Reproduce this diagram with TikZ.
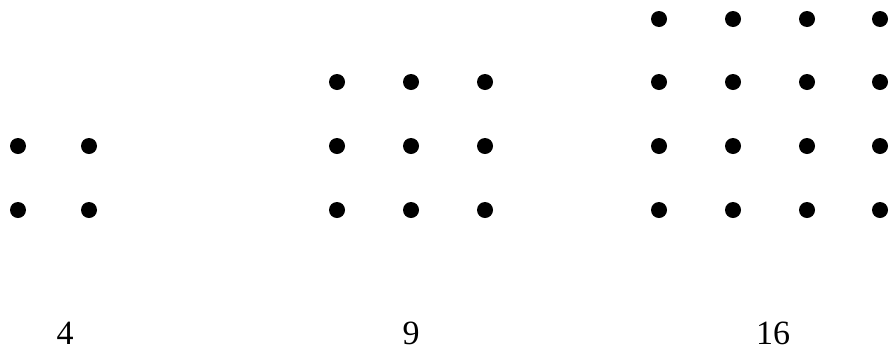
\documentclass[tikz,border=0pt]{standalone}
\usepackage{fontspec}
\setmainfont{Liberation Serif}
\begin{document}
\begin{tikzpicture}[x=1pt,y=-1pt,
  dotmark/.style={circle,fill=black,inner sep=0pt,minimum size=16pt},
  lbl/.style={inner sep=0pt,font=\fontsize{34}{34}\selectfont}]
\useasboundingbox (0,0) rectangle (890,349);
% 4
\foreach \i/\x in {1/18,2/89}{
  \foreach \j/\y in {1/146,2/210}{
    \node[dotmark] (a\i\j) at (\x,\y) {};
  }
}
% 9
\foreach \i/\x in {1/337,2/411,3/485}{
  \foreach \j/\y in {1/82,2/146,3/210}{
    \node[dotmark] (b\i\j) at (\x,\y) {};
  }
}
% 16
\foreach \i/\x in {1/659,2/733,3/807,4/880}{
  \foreach \j/\y in {1/19,2/82,3/146,4/210}{
    \node[dotmark] (c\i\j) at (\x,\y) {};
  }
}
\node[lbl] (l4) at (65,333) {4};
\node[lbl] (l9) at (411,333) {9};
\node[lbl] (l16) at (773,333) {16};
\end{tikzpicture}
\end{document}
